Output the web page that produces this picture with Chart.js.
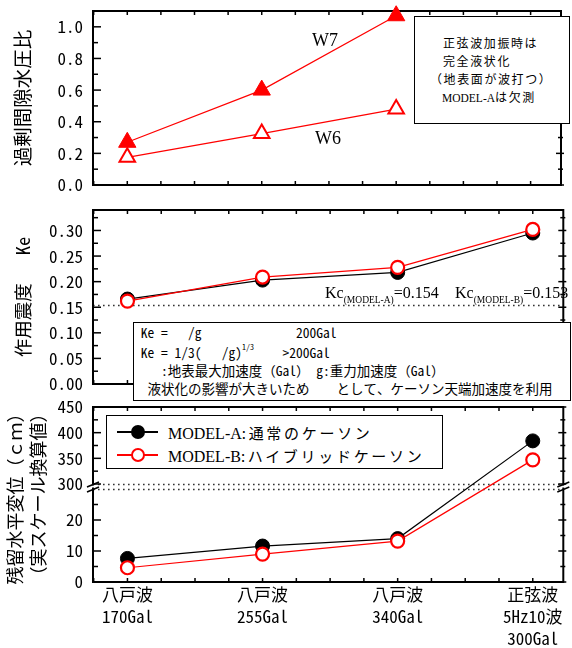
<!DOCTYPE html>
<html><head><meta charset="utf-8">
<script src="https://cdn.jsdelivr.net/npm/chart.js@4.4.1/dist/chart.umd.min.js"></script>
<style>
html,body{margin:0;padding:0;background:#fff;}
#wrap{position:relative;width:572px;height:648px;overflow:hidden;background:#fff;}
canvas{position:absolute;left:0;}
.t{position:absolute;white-space:pre;color:#000;}
.box{position:absolute;border:1.5px solid #000;background:#fff;box-sizing:border-box;}
.abs{position:absolute;box-sizing:border-box;}
</style></head><body>
<div id="wrap">
<canvas id="c1" width="572" height="197" style="top:0;width:572px;height:197px"></canvas>
<canvas id="c2" width="572" height="200" style="top:197px;width:572px;height:200px"></canvas>
<canvas id="c3" width="572" height="251" style="top:397px;width:572px;height:251px"></canvas>
</div>
<script>
// ---------------- data ----------------
const xValues = [1, 2, 3, 4];
const xLabels = [['八戸波', '170Gal'], ['八戸波', '255Gal'], ['八戸波', '340Gal'], ['正弦波', '5Hz10波', '300Gal']];

const w7Ratio = [0.27, 0.60, 1.07];
const w6Ratio = [0.175, 0.325, 0.48];
const ratioTicks = [0, 0.2, 0.4, 0.6, 0.8, 1.0];
const ratioMinor = [0.1, 0.3, 0.5, 0.7, 0.9];

const keModelA = [0.166, 0.203, 0.218, 0.295];
const keModelB = [0.162, 0.209, 0.228, 0.302];
const keTicks = [0, 0.05, 0.10, 0.15, 0.20, 0.25, 0.30];
const keMinor = [0.025, 0.075, 0.125, 0.175, 0.225, 0.275, 0.325];
const kcValue = 0.154;

const dispModelA = [7.6, 11.6, 14.0, 384];
const dispModelB = [4.6, 9.0, 13.2, 347];
const dispTicks = [0, 10, 20, 300, 350, 400, 450];
const dispMinor = [5, 15, 25, 325, 375, 425];
const dispBreak = [30, 300];   // lower segment top, upper segment bottom

// ---------------- fonts ----------------
const MONO_OK = (() => {
  const c = document.createElement('canvas').getContext('2d');
  const s = 'iii.WW0mm';
  c.font = '40px serif'; const a = c.measureText(s).width;
  c.font = '40px "Noto Sans Mono CJK JP", serif'; const b = c.measureText(s).width;
  c.font = '40px sans-serif'; const d = c.measureText(s).width;
  c.font = '40px "Noto Sans Mono CJK JP", sans-serif'; const e = c.measureText(s).width;
  return Math.abs(a - b) > 0.5 && Math.abs(d - e) > 0.5;
})();
const MONO = MONO_OK ? '"Noto Sans Mono CJK JP", monospace' : '"DejaVu Sans Mono", "Noto Sans CJK JP", monospace';
const GOTHIC = '"Noto Sans CJK JP", sans-serif';
const SERIF = '"Liberation Serif", "Times New Roman", serif';

// ---------------- broken scale ----------------
const LOW_FRAC = 93 / 175, HIGH_FRAC = 77 / 175;
class BrokenScale extends Chart.LinearScale {
  getPixelForValue(value) {
    if (value === null || value === undefined || isNaN(value)) return NaN;
    const h = this.bottom - this.top;
    const [lowTop, highBottom] = dispBreak;
    const max = this.max;
    if (value <= lowTop) return this.bottom - (value - this.min) / (lowTop - this.min) * h * LOW_FRAC;
    return this.top + (max - value) / (max - highBottom) * h * HIGH_FRAC;
  }
  getValueForPixel(pixel) {
    const h = this.bottom - this.top;
    const [lowTop, highBottom] = dispBreak;
    const lowPix = this.bottom - h * LOW_FRAC;
    if (pixel >= lowPix) return this.min + (this.bottom - pixel) / (h * LOW_FRAC) * (lowTop - this.min);
    return this.max - (pixel - this.top) / (h * HIGH_FRAC) * (this.max - highBottom);
  }
}
BrokenScale.id = 'broken';
BrokenScale.defaults = Chart.LinearScale.defaults;
Chart.register(BrokenScale);

// ---------------- frame / ticks plugin ----------------
function seg(ctx, x1, y1, x2, y2) { ctx.beginPath(); ctx.moveTo(x1, y1); ctx.lineTo(x2, y2); ctx.stroke(); }
const frameTicks = {
  id: 'frameTicks',
  beforeDatasetsDraw(chart, args, opts) {
    const { ctx, chartArea: a } = chart;
    const x = chart.scales.x, y = chart.scales.y;
    ctx.save();
    ctx.setLineDash([1.6, 3.4]); ctx.lineWidth = 1.6; ctx.strokeStyle = '#333';
    for (const v of (opts.dotted || [])) {
      const py = Math.round(y.getPixelForValue(v)) + 0.5;
      seg(ctx, a.left, py, a.right, py);
    }
    ctx.setLineDash([]);
    ctx.strokeStyle = '#000'; ctx.lineWidth = 2;
    ctx.strokeRect(a.left, a.top, a.right - a.left, a.bottom - a.top);
    ctx.lineWidth = 1.5;
    for (const t of y.ticks) {
      const py = y.getPixelForValue(t.value);
      seg(ctx, a.left, py, a.left + 8, py);
      seg(ctx, a.right - 5, py, a.right + 3, py);
    }
    for (const v of (opts.minorY || [])) {
      const py = y.getPixelForValue(v);
      seg(ctx, a.left, py, a.left + 5, py);
      seg(ctx, a.right - 3, py, a.right + 2, py);
    }
    for (let v = x.min; v <= x.max + 1e-9; v += 0.25) {
      const q = Math.round(v * 4) / 4;
      if (q <= x.min || q >= x.max) continue;
      const px = x.getPixelForValue(q);
      seg(ctx, px, a.bottom, px, a.bottom - 4);
      seg(ctx, px, a.top, px, a.top + 4);
    }
    if (opts.breaks) {
      const pLow = y.getPixelForValue(dispBreak[0]);
      const pHigh = y.getPixelForValue(dispBreak[1]);
      for (const ax of [a.left, a.right]) {
        ctx.fillStyle = '#fff';
        ctx.fillRect(ax - 2, pHigh + 1.5, 4, pLow - pHigh - 3);
        ctx.strokeStyle = '#000'; ctx.lineWidth = 1.5;
        seg(ctx, ax - 6, pHigh + 3, ax + 6, pHigh - 2);
        seg(ctx, ax - 6, pLow + 3, ax + 6, pLow - 2);
      }
    }
    ctx.restore();
  }
};

// ---------------- chart factory ----------------
const X_MIN = 0.745, X_MAX = 4.226;
function toPts(vals) { return vals.map((v, i) => ({ x: xValues[i], y: v })); }
function panel(id, cfg) {
  return new Chart(document.getElementById(id), {
    type: 'line',
    data: { datasets: cfg.datasets },
    options: {
      responsive: false, animation: false, devicePixelRatio: 1,
      layout: { padding: { top: cfg.padTop, bottom: cfg.padBottom, left: 0, right: 2 } },
      plugins: {
        legend: { display: false }, tooltip: { enabled: false },
        frameTicks: { minorY: cfg.minorY, dotted: cfg.dotted, breaks: cfg.breaks }
      },
      scales: {
        x: {
          type: 'linear', min: X_MIN, max: X_MAX, display: cfg.showX,
          grid: { display: false, drawTicks: false }, border: { display: false },
          afterBuildTicks: s => { s.ticks = xValues.map(v => ({ value: v })); },
          afterFit: s => {
            if (cfg.showX) s.height = cfg.xHeight;
            s.paddingLeft = 0; s.paddingRight = 0;
          },
          ticks: {
            autoSkip: false, maxRotation: 0, minRotation: 0, padding: 2, color: '#000',
            font: { family: MONO, size: 17, lineHeight: '22px' },
            callback: v => xLabels[xValues.indexOf(v)]
          }
        },
        y: {
          type: cfg.yType, min: cfg.yMin, max: cfg.yMax,
          grid: { display: false, drawTicks: false }, border: { display: false },
          afterBuildTicks: s => { s.ticks = cfg.yTicks.map(v => ({ value: v })); },
          afterFit: s => { s.width = 93; s.paddingTop = 0; s.paddingBottom = 0; },
          ticks: { autoSkip: false, padding: 10, color: '#000', font: { family: MONO, size: 17 }, callback: cfg.fmt },
          title: {
            display: true, text: cfg.title, color: '#000',
            font: { family: MONO, size: cfg.titleSize, lineHeight: cfg.titleLH },
            padding: { top: cfg.titlePad, bottom: 0 }
          }
        }
      }
    },
    plugins: [frameTicks]
  });
}

const RED = '#ff0000', BLACK = '#000000';

panel('c1', {
  padTop: 10, padBottom: 12, showX: false, yType: 'linear', yMin: 0, yMax: 1.1,
  yTicks: ratioTicks, minorY: ratioMinor, fmt: v => v.toFixed(1),
  title: '過剰間隙水圧比', titleSize: 19.5, titleLH: '24px', titlePad: 11,
  datasets: [
    { label: 'W7', data: toPts(w7Ratio), borderColor: RED, borderWidth: 1.2, pointStyle: 'triangle',
      pointRadius: 10, pointBackgroundColor: RED, pointBorderColor: RED, pointBorderWidth: 1, clip: false },
    { label: 'W6', data: toPts(w6Ratio), borderColor: RED, borderWidth: 1.2, pointStyle: 'triangle',
      pointRadius: 9, pointBackgroundColor: '#fff', pointBorderColor: RED, pointBorderWidth: 2, clip: false }
  ]
});

panel('c2', {
  padTop: 13, padBottom: 13, showX: false, yType: 'linear', yMin: 0, yMax: 0.34,
  yTicks: keTicks, minorY: keMinor, fmt: v => v.toFixed(2), dotted: [kcValue],
  title: '作用震度   Ke', titleSize: 18.5, titleLH: '24px', titlePad: 10.5,
  datasets: [
    { label: 'MODEL-B', data: toPts(keModelB), borderColor: RED, borderWidth: 1.2, pointStyle: 'circle',
      pointRadius: 6.5, pointBackgroundColor: '#fff', pointBorderColor: RED, pointBorderWidth: 2.2, clip: false },
    { label: 'MODEL-A', data: toPts(keModelA), borderColor: BLACK, borderWidth: 1.2, pointStyle: 'circle',
      pointRadius: 7, pointBackgroundColor: BLACK, pointBorderColor: BLACK, pointBorderWidth: 1, clip: false }
  ]
});

panel('c3', {
  padTop: 10, padBottom: 0, showX: true, xHeight: 66, yType: 'broken', yMin: 0, yMax: 450,
  yTicks: dispTicks, minorY: dispMinor, fmt: v => String(v), dotted: dispBreak, breaks: true,
  title: ['残留水平変位（ｃｍ）', '（実スケール換算値）'], titleSize: 18, titleLH: '23px', titlePad: 3.5,
  datasets: [
    { label: 'MODEL-B', data: toPts(dispModelB), borderColor: RED, borderWidth: 1.2, pointStyle: 'circle',
      pointRadius: 6.5, pointBackgroundColor: '#fff', pointBorderColor: RED, pointBorderWidth: 2.2, clip: false },
    { label: 'MODEL-A', data: toPts(dispModelA), borderColor: BLACK, borderWidth: 1.2, pointStyle: 'circle',
      pointRadius: 7, pointBackgroundColor: BLACK, pointBorderColor: BLACK, pointBorderWidth: 1, clip: false }
  ]
});

// ---------------- annotations (HTML text) ----------------
const wrap = document.getElementById('wrap');
function addText(x, yc, html, family, size, ls) {
  const d = document.createElement('div'); d.className = 't';
  const L = Math.round(size * 1.3);
  d.style.left = x + 'px'; d.style.top = (yc - L / 2) + 'px';
  d.style.fontFamily = family; d.style.fontSize = size + 'px'; d.style.lineHeight = L + 'px';
  if (ls) d.style.letterSpacing = ls;
  d.innerHTML = html; wrap.appendChild(d); return d;
}
function addBox(l, t, w, h) {
  const d = document.createElement('div'); d.className = 'box';
  d.style.left = l + 'px'; d.style.top = t + 'px'; d.style.width = w + 'px'; d.style.height = h + 'px';
  wrap.appendChild(d); return d;
}
function addAbs(css) {
  const d = document.createElement('div'); d.className = 'abs'; d.style.cssText += css; wrap.appendChild(d); return d;
}

addText(312, 40, 'W7', SERIF, 18);
addText(315, 138, 'W6', SERIF, 18);
addBox(414, 16, 156, 108);
addText(443, 43, '正弦波加振時は', GOTHIC, 12, '1.6px');
addText(443, 61, '完全液状化', GOTHIC, 12, '1.6px');
addText(430, 79, '（地表面が波打つ）', GOTHIC, 12, '1.6px');
addText(442, 97, '<span style="font-family:' + SERIF.replace(/"/g, "'") + ';font-size:11.5px;letter-spacing:0">MODEL-A</span>は欠測', GOTHIC, 12, '1.6px');

const subCss = 'font-size:9.5px;position:relative;top:5px;';
addText(325, 292, 'Kc<span style="' + subCss + '">(MODEL-A)</span>=0.154', SERIF, 16);
addText(455, 292, 'Kc<span style="' + subCss + '">(MODEL-B)</span>=0.153', SERIF, 16);
addBox(132.5, 321.5, 438, 79);
const gx = 140.7, cw = 6.75;
addText(gx, 332, 'Ke =   /g', MONO, 13.5);
addText(gx + 23 * cw, 332, '200Gal', MONO, 13.5);
addText(gx, 352, 'Ke = 1/3(   /g)', MONO, 13.5);
addText(gx + 15 * cw, 347, '1/3', MONO, 8);
addText(gx + 21 * cw, 352, '>200Gal', MONO, 13.5);
addText(gx + 3 * cw, 370, ':地表最大加速度（Gal） g:重力加速度（Gal）', MONO, 13.5);
addText(gx + 1 * cw, 388, '液状化の影響が大きいため　　として、ケーソン天端加速度を利用', MONO, 13.5);

addBox(106, 415, 337, 54);
addAbs('left:117px;top:431px;width:41px;height:1.5px;background:#000;');
addAbs('left:131px;top:425px;width:14px;height:14px;border-radius:50%;background:#000;');
addAbs('left:117px;top:454px;width:41px;height:1.5px;background:#f00;');
addAbs('left:131px;top:448px;width:14px;height:14px;border-radius:50%;background:#fff;border:2px solid #f00;');
const jpSpan = t => '<span style="font-family:' + GOTHIC.replace(/"/g, "'") + ';font-size:15px;letter-spacing:2.7px">' + t + '</span>';
addText(168, 432, 'MODEL-A' + jpSpan(':通常のケーソン'), SERIF, 16);
addText(168, 455, 'MODEL-B' + jpSpan(':ハイブリッドケーソン'), SERIF, 16);
</script>
</body></html>
